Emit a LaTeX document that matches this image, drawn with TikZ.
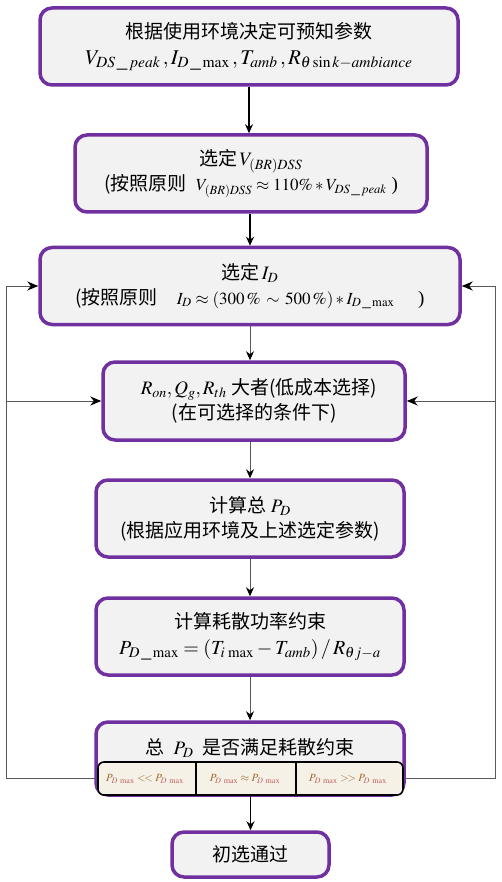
\documentclass[tikz,border=0pt]{standalone}
\usepackage{mathptmx}
\usepackage{fontspec}
\setmainfont{Liberation Serif}
\newfontfamily\cjk{Noto Sans CJK SC}
\usetikzlibrary{arrows.meta}
\definecolor{boxpurple}{HTML}{7030A0}
\definecolor{boxfill}{HTML}{F2F2F2}
\definecolor{tabfill}{HTML}{F6F1E7}
\definecolor{linegray}{HTML}{595959}
\definecolor{tabtxt}{HTML}{9A6A2F}
\definecolor{tabsub}{HTML}{C0605D}
\begin{document}
\begin{tikzpicture}[x=1pt,y=-1pt,
  box/.style={draw=boxpurple, line width=3.5pt, fill=boxfill, rounded corners=12pt, inner sep=0pt, align=center},
  big/.style={font=\fontsize{19}{25}\selectfont},
  arr/.style={-{Stealth[length=9pt,width=8pt]}, line width=1.6pt},
  thinarr/.style={-{Stealth[length=9pt,width=8pt,color=black]}, line width=0.9pt, draw=linegray},
  looparr/.style={-{Stealth[length=11pt,width=9pt,color=black]}, line width=1pt, draw=linegray},
  tabtext/.style={font=\fontsize{11}{13}\selectfont, text=tabtxt, inner sep=0pt}
]
\useasboundingbox (0,0) rectangle (502,882);

\node[box, big, minimum width=418pt, minimum height=77pt] (b1) at (249,46.5)
  {{\cjk 根据使用环境决定可预知参数}\\[1pt]
   \fontsize{21}{24}\selectfont $V_{DS\,\_\,peak}\,,I_{D\,\_\max}\,,T_{amb}\,,R_{\theta\sin k-ambiance}$};

\node[box, big, minimum width=352pt, minimum height=77pt] (b2) at (251,173.5)
  {{\cjk 选定}$\,V_{(BR)DSS}$\\
   {\cjk (按照原则}\ \ {\fontsize{17}{20}\selectfont $V_{(BR)DSS}\approx110\%*V_{DS\,\_\,peak}$}\ )};

\node[box, big, minimum width=420pt, minimum height=77pt] (b3) at (250,286)
  {{\cjk 选定}$\,I_D$\\
   {\cjk (按照原则}\quad {\fontsize{17}{20}\selectfont $I_D\approx(300\,\%\,\sim\,500\,\%)*I_{D\,\_\max}$}\quad\ )};

\node[box, big, minimum width=302pt, minimum height=78pt] (b4) at (254,401)
  {\hspace*{10pt}$R_{on},Q_g,R_{th}$ {\cjk 大者(低成本选择)}\\
   {\cjk (在可选择的条件下)}};

\node[box, big, minimum width=308pt, minimum height=77pt] (b5) at (250,518.5)
  {{\cjk 计算总}\ $P_D$\\
   {\cjk (根据应用环境及上述选定参数)}};

\node[box, big, minimum width=308pt, minimum height=77pt] (b6) at (250,636.5)
  {{\cjk 计算耗散功率约束}\\[1pt]
   {\fontsize{20}{24}\selectfont $P_{D\,\_\max}=(T_{i\,\max}-T_{amb})\,/\,R_{\theta j-a}$}};

\node[box, minimum width=308pt, minimum height=73pt] (b7) at (250,758.5) {};
\node[big, inner sep=0pt] (t7) at (250,748) {{\cjk 总}\ \ $P_D$\ \ {\cjk 是否满足耗散约束}};

\node[draw=black, line width=1.6pt, fill=tabfill, rounded corners=6pt,
      minimum width=305pt, minimum height=33pt, inner sep=0pt] (tbl) at (250.5,778.5) {};
\draw[line width=1.6pt] (196,762) -- (196,795);
\draw[line width=1.6pt] (296,762) -- (296,795);
\node[tabtext] (c1) at (145,779) {$P_{\color{tabsub}D\;\max}<\!<P_{\color{tabsub}D\;\max}$};
\node[tabtext] (c2) at (245,779) {$P_{\color{tabsub}D\;\max}\approx P_{\color{tabsub}D\;\max}$};
\node[tabtext] (c3) at (348,779) {$P_{\color{tabsub}D\;\max}>\!>P_{\color{tabsub}D\;\max}$};

\node[box, big, minimum width=157pt, minimum height=45pt] (b8) at (250.5,854.5)
  {{\cjk 初选通过}};

% main flow
\draw[arr] (b1.south) -- (b1.south |- b2.north);
\draw[arr] (b3.north |- b2.south) -- (b3.north);
\draw[thinarr] (b3.south) -- (b3.south |- b4.north);
\draw[thinarr] (b5.north |- b4.south) -- (b5.north);
\draw[thinarr] (b5.south) -- (b6.north);
\draw[thinarr] (b6.south) -- (b7.north);
\draw[arr] (b8.north |- tbl.south) -- (b8.north);

% feedback loops
\coordinate (L) at (6,0);
\coordinate (R) at (495,0);
\draw[looparr] (tbl.west) -- (tbl.west -| L) |- (b3.west);
\draw[looparr] (b4.west -| L) -- (b4.west);
\draw[looparr] (tbl.east) -- (tbl.east -| R) |- (b3.east);
\draw[looparr] (b4.east -| R) -- (b4.east);
\end{tikzpicture}
\end{document}
